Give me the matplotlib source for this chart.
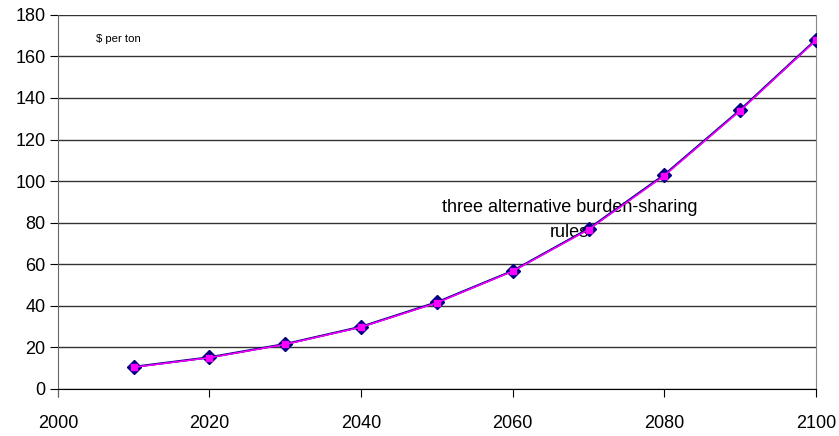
import matplotlib.pyplot as plt

plt.rcParams['font.family'] = ['Liberation Sans', 'DejaVu Sans']

years = [2010, 2020, 2030, 2040, 2050, 2060, 2070, 2080, 2090, 2100]
# price path under each burden-sharing rule (nearly identical)
rule_a = [10.6, 15.2, 21.6, 29.9, 41.7, 56.8, 77.0, 103.0, 134.2, 168.0]
rule_b = [10.4, 15.0, 21.4, 29.7, 41.4, 56.6, 76.6, 102.6, 133.8, 167.7]
rule_c = [10.5, 15.1, 21.5, 29.8, 41.5, 56.7, 76.8, 102.8, 134.0, 167.8]

x_ticks = [2000, 2020, 2040, 2060, 2080, 2100]
y_ticks = list(range(0, 181, 20))

fig = plt.figure(figsize=(8.39, 4.36), dpi=100)
ax = fig.add_axes([0.069, 0.108, 0.9035, 0.858])

ax.plot(years, rule_a, color='#000080', lw=1.6, marker='D', ms=7.5,
        mfc='#000080', mec='#000080', zorder=3)
ax.plot(years, rule_c, color='#6a00c0', lw=1.0, zorder=4)
ax.plot(years, rule_b, color='#ff00ff', lw=1.0, marker='s', ms=5,
        mfc='#ff00ff', mec='#ff00ff', zorder=5)

ax.set_xlim(2000, 2100)
ax.set_ylim(0, 180)
ax.set_xticks(x_ticks)
ax.set_yticks(y_ticks)
ax.yaxis.grid(True, color='#333333', lw=1.0)
ax.set_axisbelow(True)

ax.spines['top'].set_visible(False)
ax.spines['right'].set_color('#888888')
ax.spines['left'].set_color('#666666')
ax.spines['left'].set_bounds(-3.3, 180)
ax.spines['bottom'].set_color('black')

ax.tick_params(axis='both', labelsize=13, direction='out', length=6,
               color='black')
ax.tick_params(axis='x', pad=13)
ax.tick_params(axis='y', pad=3)

ax.text(2005, 167, '$ per ton', fontsize=8.2)
ax.text(2067.5, 81.3, 'three alternative burden-sharing\nrules', fontsize=13,
        ha='center', va='center', linespacing=1.65)

fig.savefig('out.png')
